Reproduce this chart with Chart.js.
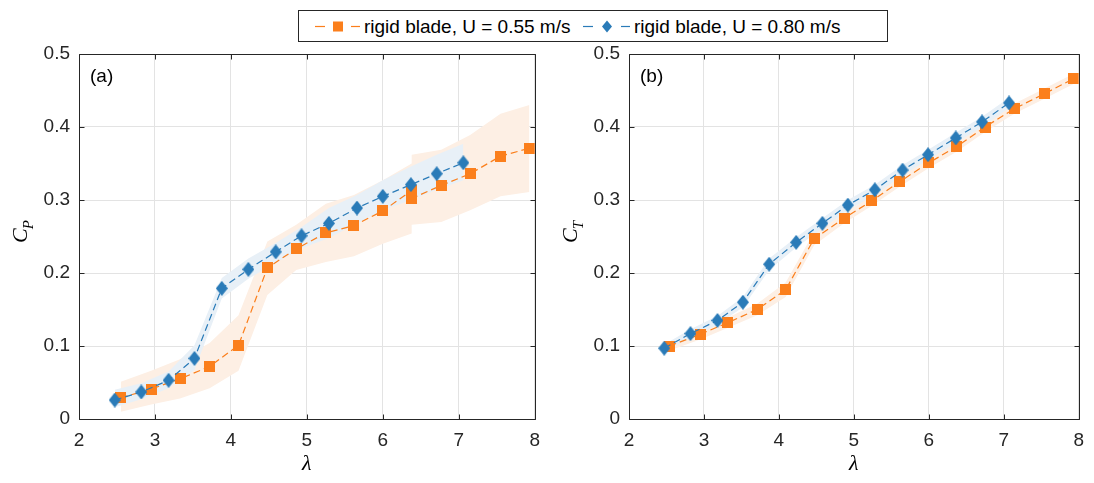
<!DOCTYPE html>
<html><head><meta charset="utf-8">
<script src="https://cdn.jsdelivr.net/npm/chart.js@4.4.1/dist/chart.umd.min.js"></script>
<style>
html,body{margin:0;padding:0;background:#fff;width:1094px;height:483px;overflow:hidden;position:relative}
#ca{position:absolute;left:0;top:0}
#cb{position:absolute;left:550px;top:0}
#legend{position:absolute;left:298px;top:10px;width:588px;height:30px;border:1px solid #262626;background:#fff;font-family:"Liberation Sans",Arial,sans-serif;font-size:19px;color:#000}
#legend svg{position:absolute;top:0}
#legend span{position:absolute;top:0;line-height:31px;white-space:nowrap}
</style></head><body>
<canvas id="ca" width="550" height="483"></canvas>
<canvas id="cb" width="544" height="483"></canvas>
<div id="legend"></div>
<script>
// ---------- data ----------
const seriesLabels = ['rigid blade, U = 0.55 m/s', 'rigid blade, U = 0.80 m/s'];
const xTicks = [2, 3, 4, 5, 6, 7, 8];
const yTicks = [0, 0.1, 0.2, 0.3, 0.4, 0.5];

// Panel (a): power coefficient
const lamA055 = [2.55, 2.95, 3.33, 3.72, 4.10, 4.48, 4.86, 5.25, 5.62, 6.00, 6.38, 6.38, 6.77, 7.15, 7.55, 7.93];
const cpA055  = [0.029, 0.041, 0.055, 0.072, 0.101, 0.207, 0.233, 0.255, 0.265, 0.285, 0.313, 0.302, 0.320, 0.336, 0.360, 0.371];
const cpA055Lo = [0.010, 0.020, 0.028, 0.042, 0.066, 0.170, 0.204, 0.215, 0.223, 0.240, 0.254, 0.266, 0.270, 0.286, 0.305, 0.311];
const cpA055Hi = [0.051, 0.066, 0.082, 0.104, 0.142, 0.243, 0.266, 0.295, 0.307, 0.327, 0.350, 0.362, 0.369, 0.389, 0.418, 0.430];

const lamA080 = [2.47, 2.82, 3.18, 3.52, 3.88, 4.23, 4.59, 4.93, 5.29, 5.66, 6.00, 6.37, 6.71, 7.06];
const cpA080  = [0.026, 0.037, 0.053, 0.083, 0.179, 0.205, 0.229, 0.251, 0.268, 0.289, 0.305, 0.321, 0.336, 0.351];
const cpA080Lo = [0.016, 0.027, 0.042, 0.067, 0.165, 0.192, 0.214, 0.234, 0.248, 0.268, 0.286, 0.300, 0.314, 0.327];
const cpA080Hi = [0.040, 0.049, 0.065, 0.101, 0.193, 0.220, 0.241, 0.263, 0.289, 0.307, 0.327, 0.346, 0.362, 0.377];

// Panel (b): thrust coefficient
const lamB055 = [2.54, 2.95, 3.32, 3.71, 4.09, 4.47, 4.87, 5.24, 5.61, 6.00, 6.37, 6.75, 7.14, 7.55, 7.93];
const ctB055  = [0.100, 0.116, 0.132, 0.150, 0.177, 0.247, 0.275, 0.299, 0.325, 0.351, 0.373, 0.400, 0.425, 0.446, 0.466];
const ctB055Lo = [0.094, 0.109, 0.125, 0.142, 0.167, 0.238, 0.268, 0.292, 0.318, 0.344, 0.366, 0.393, 0.418, 0.439, 0.459];
const ctB055Hi = [0.106, 0.123, 0.139, 0.158, 0.187, 0.256, 0.282, 0.306, 0.332, 0.358, 0.380, 0.407, 0.432, 0.453, 0.473];

const lamB080 = [2.47, 2.82, 3.18, 3.52, 3.87, 4.23, 4.58, 4.92, 5.28, 5.65, 5.99, 6.36, 6.71, 7.07];
const ctB080  = [0.097, 0.117, 0.135, 0.160, 0.212, 0.242, 0.268, 0.293, 0.314, 0.341, 0.362, 0.385, 0.407, 0.433];
const ctB080Lo = [0.092, 0.111, 0.129, 0.153, 0.204, 0.235, 0.261, 0.286, 0.307, 0.334, 0.355, 0.378, 0.400, 0.426];
const ctB080Hi = [0.102, 0.123, 0.141, 0.167, 0.220, 0.249, 0.275, 0.300, 0.321, 0.348, 0.369, 0.392, 0.414, 0.440];

// ---------- styles ----------
const ORANGE = '#fb7f1c', BLUE = '#2a7bb8';
const ORANGE_BAND = '#fdefe4', BLUE_BAND = '#e8f0f7';
const TXT = '#262626';
const SANS = '"Liberation Sans", Arial, sans-serif';

function pts(xs, ys) { return xs.map((x, i) => ({ x: x, y: ys[i] })); }
function markerSquare(side, color) {
  const c = document.createElement('canvas'); c.width = side; c.height = side;
  const g = c.getContext('2d'); g.fillStyle = color; g.fillRect(0, 0, side, side); return c;
}
function markerDiamond(w, h, color) {
  const c = document.createElement('canvas'); c.width = w; c.height = h;
  const g = c.getContext('2d'); g.fillStyle = color;
  g.beginPath(); g.moveTo(w / 2, 0); g.lineTo(w, h / 2); g.lineTo(w / 2, h); g.lineTo(0, h / 2); g.closePath(); g.fill();
  return c;
}
const sq = markerSquare(11, ORANGE);
const dm = markerDiamond(12, 15, BLUE);

function bandSets(xs, lo, hi, color, order) {
  return [
    { data: pts(xs, lo), borderWidth: 0, pointRadius: 0, fill: false, order: order, backgroundColor: color, borderColor: 'rgba(0,0,0,0)' },
    { data: pts(xs, hi), borderWidth: 0, pointRadius: 0, fill: '-1', order: order, backgroundColor: color, borderColor: 'rgba(0,0,0,0)' }
  ];
}
function lineSet(xs, ys, color, marker, order) {
  return { data: pts(xs, ys), borderColor: color, borderWidth: 1.2, borderDash: [7, 4], pointStyle: marker,
    pointRadius: 6, fill: false, order: order, backgroundColor: color };
}

const framePlugin = {
  id: 'frame',
  afterDraw(chart, args, o) {
    const ctx = chart.ctx, a = chart.chartArea, xs = chart.scales.x, ys = chart.scales.y;
    ctx.save();
    ctx.strokeStyle = TXT; ctx.lineWidth = 1;
    const L = Math.round(a.left) + 0.5, R = Math.round(a.right) + 0.5, T = Math.round(a.top) + 0.5, B = Math.round(a.bottom) + 0.5;
    ctx.beginPath();
    ctx.rect(L, T, R - L, B - T);
    xTicks.forEach(v => {
      const px = Math.round(xs.getPixelForValue(v)) + 0.5;
      ctx.moveTo(px, B); ctx.lineTo(px, B - 5);
      ctx.moveTo(px, T); ctx.lineTo(px, T + 5);
    });
    yTicks.forEach(v => {
      const py = Math.round(ys.getPixelForValue(v)) + 0.5;
      ctx.moveTo(L, py); ctx.lineTo(L + 5, py);
      ctx.moveTo(R, py); ctx.lineTo(R - 5, py);
    });
    ctx.stroke();
    // panel label
    ctx.fillStyle = '#000';
    ctx.font = '19px ' + SANS;
    ctx.textBaseline = 'alphabetic'; ctx.textAlign = 'left';
    ctx.fillText(o.panel, a.left + 11, a.top + 28);
    // x title
    ctx.font = 'italic 22px "Liberation Serif", "DejaVu Serif", serif';
    ctx.textAlign = 'center';
    ctx.fillText(o.xTitle, (a.left + a.right) / 2, 470);
    // y title rotated
    ctx.translate(27, 243);
    ctx.rotate(-Math.PI / 2);
    ctx.textAlign = 'left';
    ctx.font = 'italic 22px "Liberation Serif", "DejaVu Serif", serif';
    ctx.fillText(o.yMain, 0, 0);
    const w = ctx.measureText(o.yMain).width;
    ctx.font = 'italic 15px "Liberation Serif", "DejaVu Serif", serif';
    ctx.fillText(o.ySub, w - 1, 6);
    ctx.restore();
  }
};

function makeChart(id, rightPad, datasets, panel, yMain, ySub) {
  return new Chart(document.getElementById(id), {
    type: 'line',
    data: { datasets: datasets },
    plugins: [framePlugin],
    options: {
      responsive: false, animation: false, events: [],
      layout: { padding: { top: 54, right: rightPad, left: 0, bottom: 0 } },
      plugins: { legend: { display: false }, tooltip: { enabled: false },
        filler: { propagate: false },
        frame: { panel: panel, xTitle: 'λ', yMain: yMain, ySub: ySub } },
      scales: {
        x: { type: 'linear', min: 2, max: 8,
          afterFit: s => { s.height = 64; },
          afterBuildTicks: s => { s.ticks = xTicks.map(v => ({ value: v })); },
          border: { display: false },
          grid: { color: '#e3e3e3', lineWidth: 1, drawTicks: false },
          ticks: { color: TXT, padding: 10, font: { family: SANS, size: 19 }, callback: v => String(v) } },
        y: { type: 'linear', min: 0, max: 0.5,
          afterFit: s => { s.width = 79; },
          afterBuildTicks: s => { s.ticks = yTicks.map(v => ({ value: v })); },
          border: { display: false },
          grid: { color: '#e3e3e3', lineWidth: 1, drawTicks: false },
          ticks: { color: TXT, padding: 9, font: { family: SANS, size: 19 }, callback: v => (v === 0 ? '0' : Number(v).toFixed(1)) } }
      }
    }
  });
}

makeChart('ca', 13, [
  ...bandSets(lamA055, cpA055Lo, cpA055Hi, ORANGE_BAND, 10),
  ...bandSets(lamA080, cpA080Lo, cpA080Hi, BLUE_BAND, 9),
  lineSet(lamA055, cpA055, ORANGE, sq, 2),
  lineSet(lamA080, cpA080, BLUE, dm, 1)
], '(a)', 'C', 'P');

makeChart('cb', 5, [
  ...bandSets(lamB055, ctB055Lo, ctB055Hi, ORANGE_BAND, 10),
  ...bandSets(lamB080, ctB080Lo, ctB080Hi, BLUE_BAND, 9),
  lineSet(lamB055, ctB055, ORANGE, sq, 2),
  lineSet(lamB080, ctB080, BLUE, dm, 1)
], '(b)', 'C', 'T');

// ---------- legend (HTML) ----------
const leg = document.getElementById('legend');
leg.innerHTML =
  '<svg style="left:16px" width="48" height="30">' +
    '<line x1="0" y1="15.5" x2="10" y2="15.5" stroke="' + ORANGE + '" stroke-width="1.2"/>' +
    '<rect x="18" y="10.5" width="10" height="10" fill="' + ORANGE + '"/>' +
    '<line x1="36" y1="15.5" x2="45" y2="15.5" stroke="' + ORANGE + '" stroke-width="1.2"/></svg>' +
  '<span style="left:65px">' + seriesLabels[0] + '</span>' +
  '<svg style="left:284px" width="48" height="30">' +
    '<line x1="0" y1="15.5" x2="10" y2="15.5" stroke="' + BLUE + '" stroke-width="1.2"/>' +
    '<polygon points="24,9.5 29,15.5 24,21.5 19,15.5" fill="' + BLUE + '"/>' +
    '<line x1="38" y1="15.5" x2="47" y2="15.5" stroke="' + BLUE + '" stroke-width="1.2"/></svg>' +
  '<span style="left:335px">' + seriesLabels[1] + '</span>';
</script>
</body></html>
